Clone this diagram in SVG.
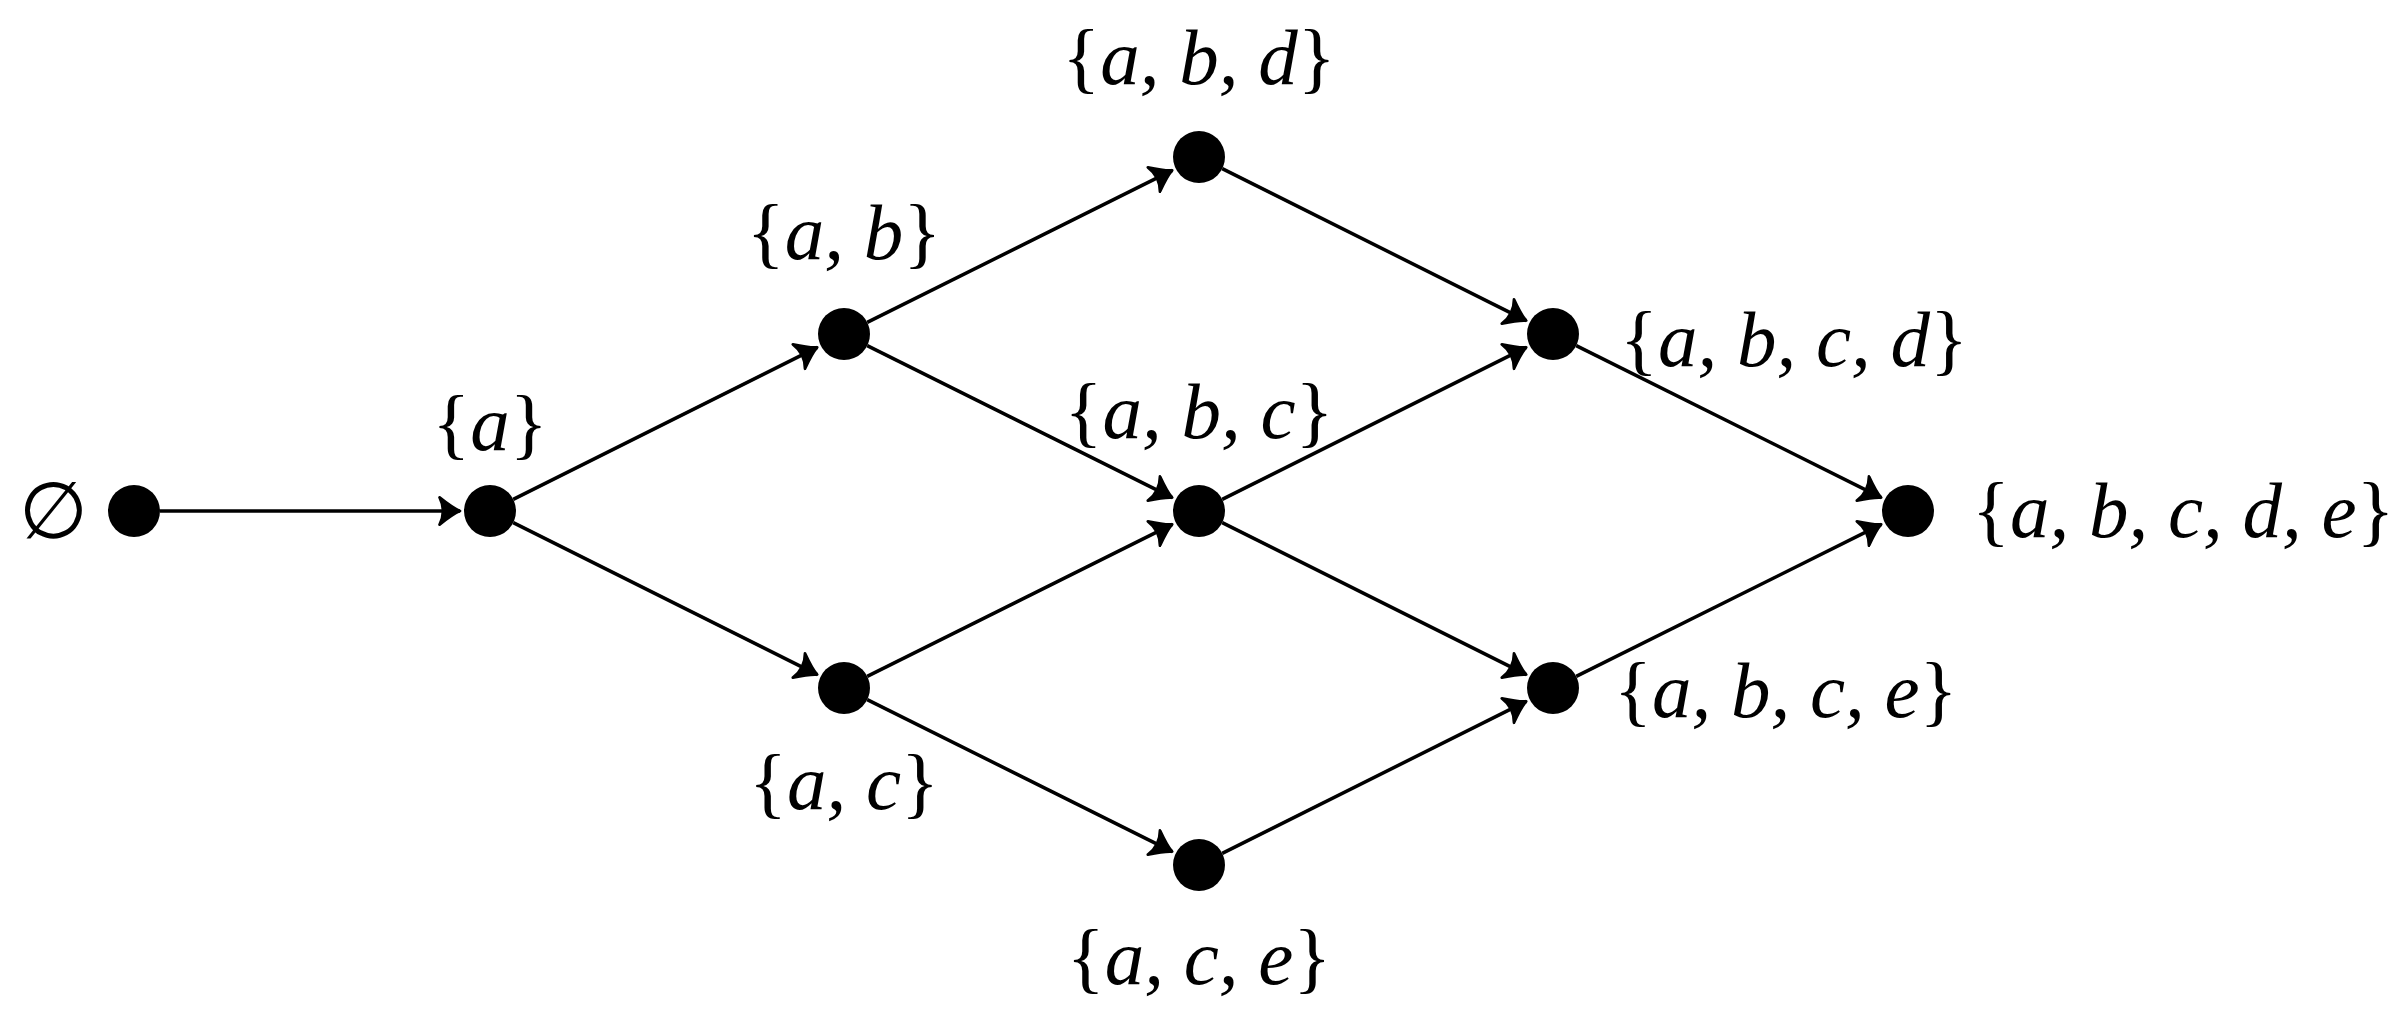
<svg xmlns="http://www.w3.org/2000/svg" width="2392" height="1036" viewBox="0 0 2392 1036">
<style>
.n{fill:#000}
.e line{stroke:#000;stroke-width:3.5;marker-end:url(#ar)}
text{font-family:"Liberation Serif",serif;font-size:79px;fill:#000}
.i{font-style:italic}
</style>
<defs>
<marker id="ar" markerUnits="userSpaceOnUse" markerWidth="30" markerHeight="30" viewBox="-16 -11 18 22" refX="0" refY="0" orient="auto">
<path d="M-15,-10 Q-5,-2 0,0 Q-5,2 -15,10 Q-10,0 -15,-10Z" fill="#000" stroke="#000" stroke-width="2" stroke-linejoin="round"/>
</marker>
</defs>
<rect width="2392" height="1036" fill="#fff"/>
<g class="e">
<line x1="160" y1="511" x2="460" y2="511"/>
<line x1="513.2" y1="499.4" x2="817.2" y2="347.4"/>
<line x1="513.2" y1="522.6" x2="817.2" y2="674.6"/>
<line x1="867.2" y1="322.4" x2="1172.2" y2="170.4"/>
<line x1="867.2" y1="345.6" x2="1172.2" y2="497.6"/>
<line x1="867.2" y1="676.4" x2="1172.2" y2="524.4"/>
<line x1="867.2" y1="699.6" x2="1172.2" y2="851.6"/>
<line x1="1222.2" y1="168.6" x2="1526.2" y2="320.6"/>
<line x1="1222.2" y1="499.4" x2="1526.2" y2="347.4"/>
<line x1="1222.2" y1="522.6" x2="1526.2" y2="674.6"/>
<line x1="1222.2" y1="853.4" x2="1526.2" y2="701.4"/>
<line x1="1576.2" y1="345.6" x2="1881.2" y2="497.6"/>
<line x1="1576.2" y1="676.4" x2="1881.2" y2="524.4"/>
</g>
<g id="n0"><circle class="n" cx="134" cy="511" r="26"/><text x="53" y="538" text-anchor="middle">∅</text></g>
<g id="n1"><circle class="n" cx="490" cy="511" r="26"/><text x="490" y="450" text-anchor="middle">{<tspan class="i">a</tspan>}</text></g>
<g id="n2"><circle class="n" cx="844" cy="334" r="26"/><text x="844" y="259" text-anchor="middle">{<tspan class="i">a, b</tspan>}</text></g>
<g id="n3"><circle class="n" cx="844" cy="688" r="26"/><text x="844" y="809" text-anchor="middle">{<tspan class="i">a, c</tspan>}</text></g>
<g id="n4"><circle class="n" cx="1199" cy="157" r="26"/><text x="1199" y="84" text-anchor="middle">{<tspan class="i">a, b, d</tspan>}</text></g>
<g id="n5"><circle class="n" cx="1199" cy="511" r="26"/><text x="1199" y="438" text-anchor="middle">{<tspan class="i">a, b, c</tspan>}</text></g>
<g id="n6"><circle class="n" cx="1199" cy="865" r="26"/><text x="1199" y="984" text-anchor="middle">{<tspan class="i">a, c, e</tspan>}</text></g>
<g id="n7"><circle class="n" cx="1553" cy="334" r="26"/><text x="1620" y="366">{<tspan class="i">a, b, c, d</tspan>}</text></g>
<g id="n8"><circle class="n" cx="1553" cy="688" r="26"/><text x="1614" y="717">{<tspan class="i">a, b, c, e</tspan>}</text></g>
<g id="n9"><circle class="n" cx="1908" cy="511" r="26"/><text x="1972" y="537">{<tspan class="i">a, b, c, d, e</tspan>}</text></g>
</svg>
